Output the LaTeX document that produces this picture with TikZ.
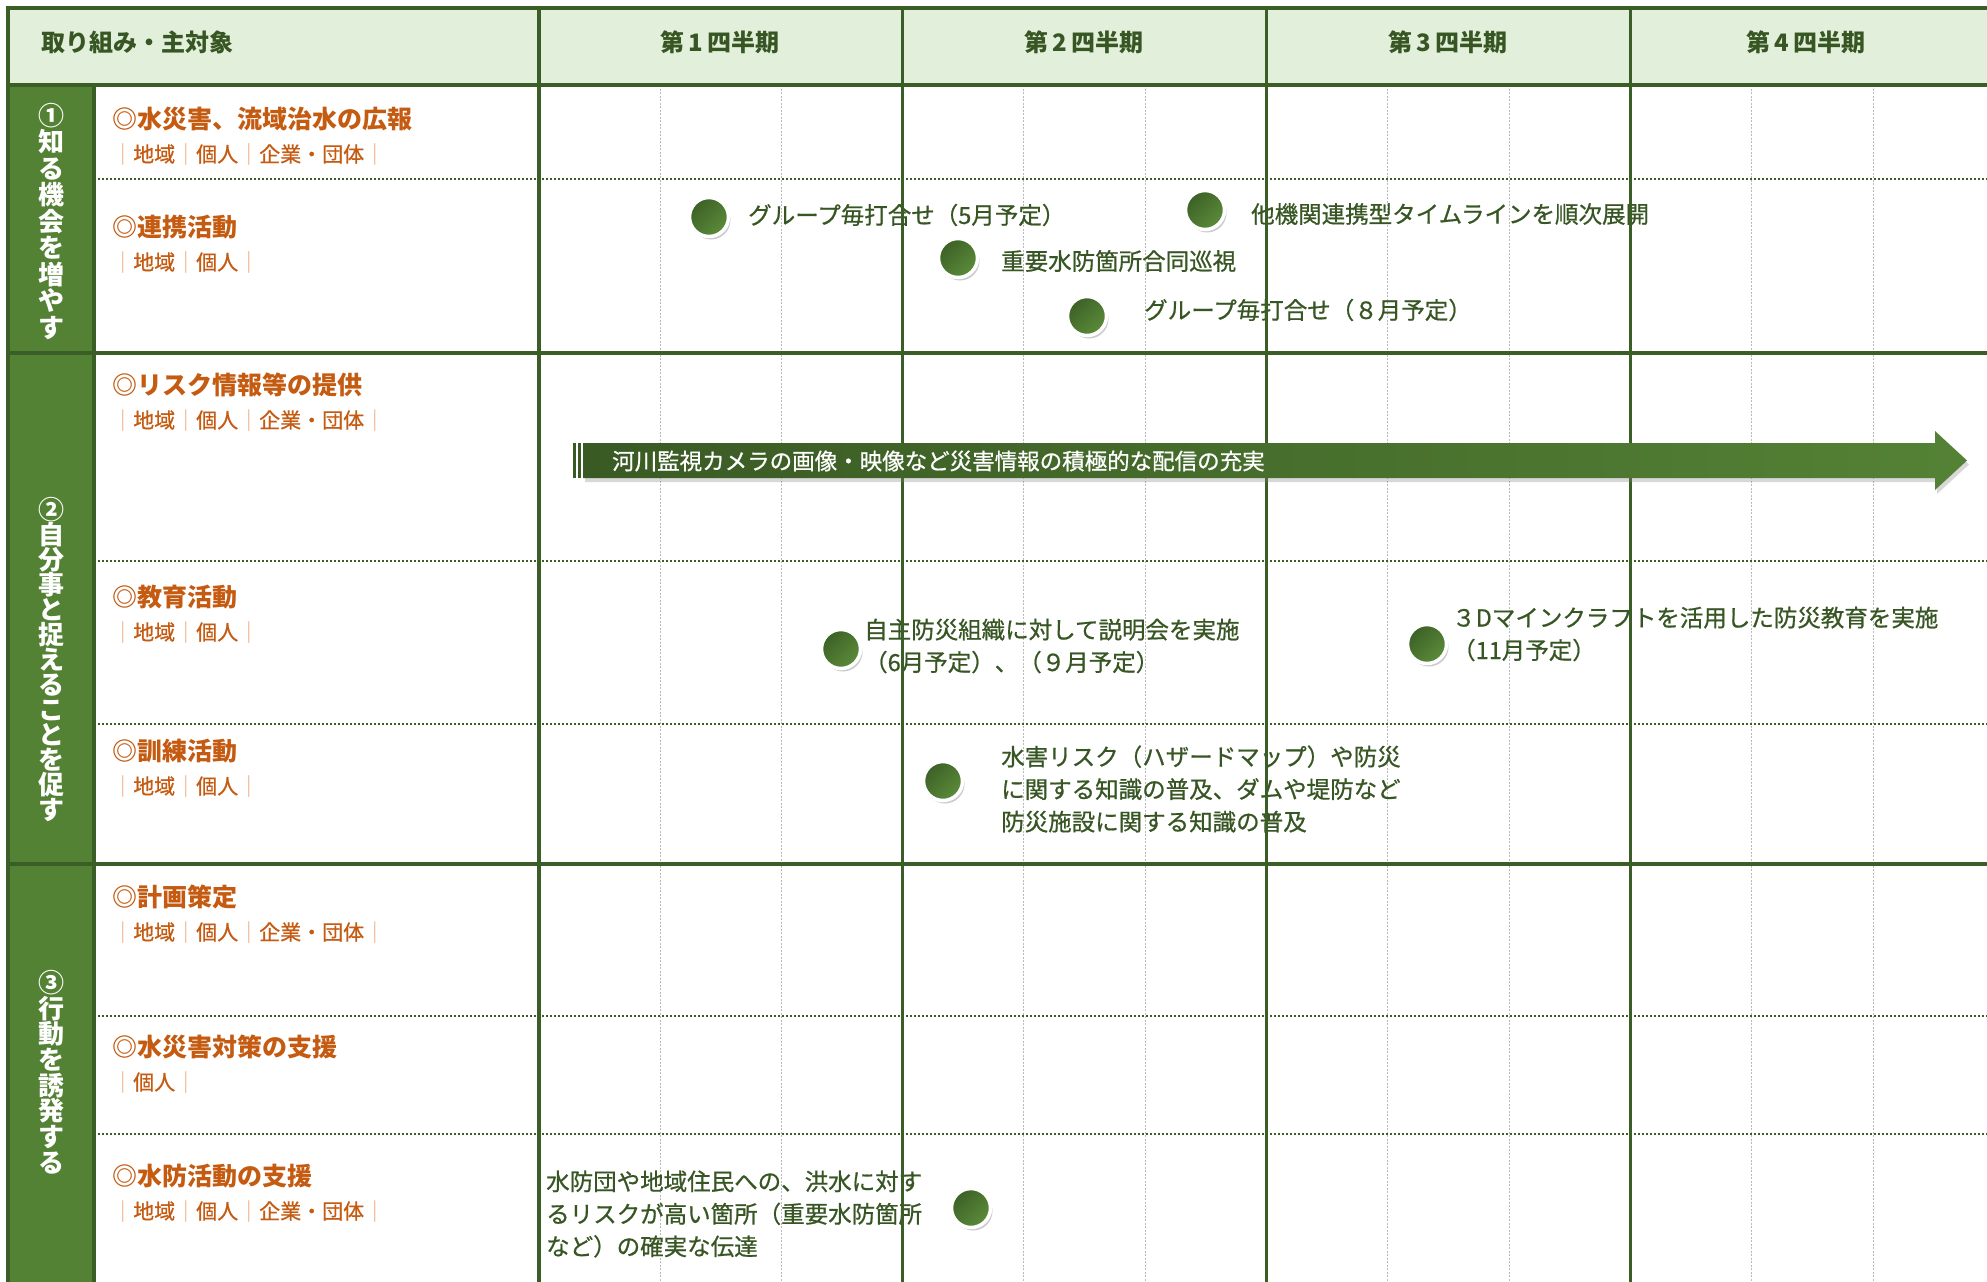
\documentclass[tikz,border=0pt]{standalone}
\usepackage{fontspec}
\setmainfont{Noto Sans CJK JP}
\newfontfamily\medfont[FakeBold=0.7]{Noto Sans CJK JP}
\usetikzlibrary{shadows,positioning}

\definecolor{lineg}{RGB}{58,94,38}
\definecolor{colg}{RGB}{84,130,53}
\definecolor{headbg}{RGB}{226,239,218}
\definecolor{catorange}{RGB}{197,90,17}
\definecolor{pipeor}{RGB}{240,176,136}
\definecolor{textg}{RGB}{55,86,35}
\definecolor{arrowdk}{RGB}{58,90,36}
\definecolor{dotdk}{RGB}{60,96,38}
\definecolor{dotlt}{RGB}{92,140,58}
\definecolor{gridgray}{RGB}{185,185,185}

\newcommand\kbar{{\color{pipeor}｜}}
\newcommand\tgall{\kbar{}地域\kbar{}個人\kbar{}企業・団体\kbar}
\newcommand\tgtwo{\kbar{}地域\kbar{}個人\kbar}
\newcommand\tgone{\kbar{}個人\kbar}

\tikzset{
  secline/.style={lineg,line width=3.5pt},
  qline/.style={lineg,line width=3pt},
  rowdots/.style={lineg,line width=2pt,dash pattern=on 2pt off 2pt},
  monthline/.style={gridgray,line width=0.8pt,dash pattern=on 2pt off 1.5pt},
  headtext/.style={inner sep=0,text=textg,font=\fontsize{24}{28}\selectfont\bfseries},
  sidelabel/.style={inner sep=0,align=center,text=white,font=\fontsize{26}{26.5}\selectfont\bfseries},
  cattitle/.style={anchor=west,inner sep=0,text=catorange,font=\fontsize{25}{28}\selectfont\bfseries},
  catsub/.style={anchor=west,inner sep=0,text=catorange,font=\fontsize{21}{24}\medfont},
  evdot/.style={circle,minimum size=39pt,inner sep=0,draw=white,line width=3.5pt,
    top color=dotdk,bottom color=dotlt,shading angle=45,
    drop shadow={opacity=0.4,shadow xshift=2pt,shadow yshift=-3pt}},
  evtext/.style={anchor=west,inner sep=0,align=left,text=textg,font=\fontsize{23.5}{32.5}\medfont},
}

\begin{document}
\begin{tikzpicture}[x=1pt,y=-1pt]
\useasboundingbox (0,0) rectangle (1987,1282);
\fill[white] (0,0) rectangle (1987,1282);

% header band and left column
\fill[headbg] (8,8) rectangle (1987,85);
\fill[colg] (8,85) rectangle (94,1282);

% months
\foreach \x in {660,781,1023,1145,1387,1509,1751,1873}
  \draw[monthline] (\x,85) -- (\x,1282);

% rows
\foreach \y in {179,561,724,1016,1134}
  \draw[rowdots] (94,\y) -- (1987,\y);

\draw[secline] (1987,8) -- (8,8) -- (8,1282);
\foreach \y in {85,353,864}
  \draw[secline] (8,\y) -- (1987,\y);
\draw[secline] (94,85) -- (94,1282);
\draw[secline] (539,8) -- (539,1282);

% header
\node[headtext,anchor=west] (hd) at (41,42) {取り組み・主対象};
\foreach \q/\cx in {1/720,2/1084,3/1448,4/1806}
  \node[headtext] (q\cx) at (\cx,42) {第\,\q\,四半期};

% side labels
\node[sidelabel] (sec1) at (51,221) {①\\知\\る\\機\\会\\を\\増\\や\\す};
\node[sidelabel,font=\fontsize{26}{25}\selectfont\bfseries] (sec2) at (51,659) {②\\自\\分\\事\\と\\捉\\え\\る\\こ\\と\\を\\促\\す};
\node[sidelabel,font=\fontsize{26}{25.7}\selectfont\bfseries] (sec3) at (51,1072) {③\\行\\動\\を\\誘\\発\\す\\る};

% categories
\foreach \nm/\ty/\ttl/\tg in {kouhou/119/水災害、流域治水の広報/\tgall,
    renkei/227/連携活動/\tgtwo, risk/385/リスク情報等の提供/\tgall,
    kyouiku/597/教育活動/\tgtwo, kunren/751/訓練活動/\tgtwo,
    keikaku/897/計画策定/\tgall, taisaku/1047/水災害対策の支援/\tgone,
    suibou/1176/水防活動の支援/\tgall}
{
  \node[cattitle] (\nm) at (112,\ty) {◎\ttl};
  \node[catsub] (\nm-sub) at (112,\ty+35) {\tg};
}

% event texts
\node[evtext] (ev1t) at (748,215) {グループ毎打合せ（5月予定）};
\node[evtext] (ev2t) at (1251,214) {他機関連携型タイムラインを順次展開};
\node[evtext] (ev3t) at (1001,261) {重要水防箇所合同巡視};
\node[evtext] (ev4t) at (1144,310) {グループ毎打合せ（８月予定）};
\node[evtext] (ev5t) at (864,646) {自主防災組織に対して説明会を実施\\（6月予定）、（９月予定）};
\node[evtext] (ev6t) at (1452,634) {３Dマインクラフトを活用した防災教育を実施\\（11月予定）};
\node[evtext] (ev7t) at (1001,789) {水害リスク（ハザードマップ）や防災\\に関する知識の普及、ダムや堤防など\\防災施設に関する知識の普及};
\node[evtext] (ev8t) at (546,1214) {水防団や地域住民への、洪水に対す\\るリスクが高い箇所（重要水防箇所\\など）の確実な伝達};

% quarters
\foreach \x in {902,1266,1630}
  \draw[qline] (\x,8) -- (\x,1282);

% timeline arrow
\path[left color=arrowdk,right color=colg,drop shadow={opacity=0.3,shadow xshift=2pt,shadow yshift=-4pt}]
  (583,443) -- (1935,443) -- (1935,431) -- (1967,460.5) -- (1935,490) -- (1935,478) -- (583,478) -- cycle;
\fill[arrowdk] (573,443) rectangle (576,478);
\fill[arrowdk] (578,443) rectangle (581,478);
\node[anchor=west,inner sep=0,text=white,font=\fontsize{22.5}{26}\medfont] (armtxt) at (612,461)
  {河川監視カメラの画像・映像など災害情報の積極的な配信の充実};

% event dots
\node[evdot] (ev1) at (709,217) {};
\node[evdot] (ev2) at (1205,210) {};
\node[evdot] (ev3) at (958,258) {};
\node[evdot] (ev4) at (1087,316) {};
\node[evdot] (ev5) at (841,649) {};
\node[evdot] (ev6) at (1427,644) {};
\node[evdot] (ev7) at (943,781) {};
\node[evdot] (ev8) at (971,1208) {};
\end{tikzpicture}
\end{document}
